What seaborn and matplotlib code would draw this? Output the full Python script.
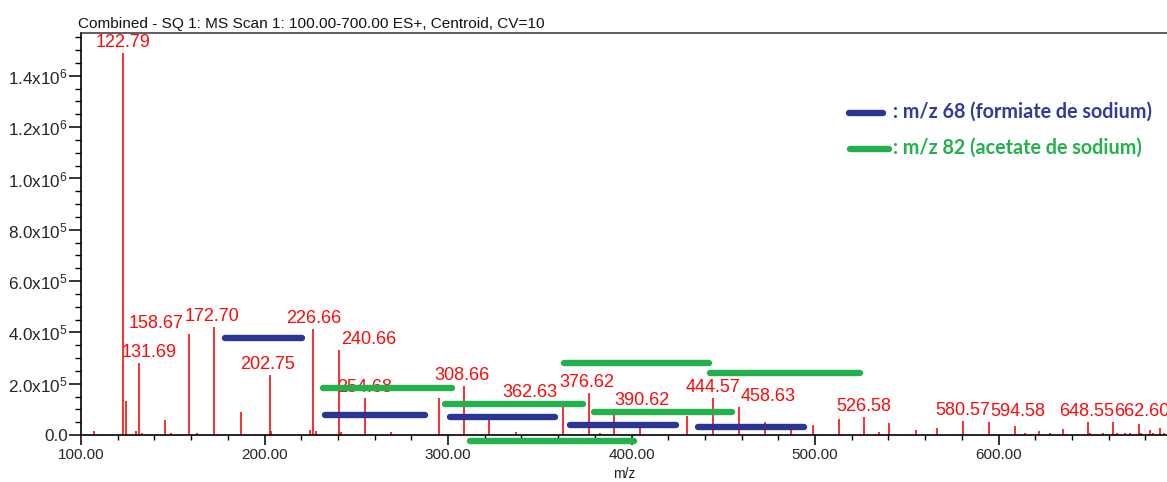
import numpy as np
import pandas as pd
import matplotlib
matplotlib.use("Agg")
import matplotlib.pyplot as plt
from matplotlib.ticker import MultipleLocator, FuncFormatter, FormatStrFormatter
import seaborn as sns

# ---------------------------------------------------------------------------
# Data: centroid peaks (m/z, intensity)
# ---------------------------------------------------------------------------
peak_mz = [107.1, 122.79, 124.4, 130.0, 131.69, 133.0, 145.6, 148.9, 158.67, 163.0,
           172.70, 187.4, 202.75, 203.6, 224.8, 226.66, 228.0, 240.66, 241.5, 254.68,
           269.1, 295.3, 308.66, 322.5, 337.0, 362.63, 376.62, 383.0, 390.62, 404.6,
           430.4, 444.57, 458.63, 472.7, 486.7, 498.7, 513.2, 526.58, 535.0, 540.5,
           554.9, 566.7, 580.57, 594.58, 608.8, 614.4, 622.0, 628.2, 635.3, 648.55,
           650.0, 656.7, 662.60, 664.4, 669.0, 671.6, 676.7, 677.8, 682.6, 684.4,
           688.0, 690.2]
peak_int = [1.7e4, 1.49e6, 1.33e5, 1.7e4, 2.8e5, 8e3, 5.7e4, 8e3, 3.95e5, 8e3,
            4.22e5, 8.8e4, 2.34e5, 1.7e4, 2.0e4, 4.12e5, 1.7e4, 3.31e5, 1.0e4, 1.44e5,
            1.1e4, 1.44e5, 1.92e5, 5.8e4, 1.3e4, 1.25e5, 1.65e5, 8e3, 9.4e4, 2.6e4,
            7.4e4, 1.43e5, 1.1e5, 5.2e4, 2.0e4, 3.9e4, 6.1e4, 6.9e4, 1.2e4, 4.5e4,
            2.0e4, 2.9e4, 5.6e4, 5.1e4, 3.4e4, 9e3, 1.7e4, 9e3, 2.2e4, 5.0e4,
            8e3, 8e3, 5.0e4, 8e3, 8e3, 8e3, 4.3e4, 9e3, 1.8e4, 8e3,
            2.6e4, 8e3]

# labelled peaks
labels = ["122.79", "131.69", "158.67", "172.70", "202.75", "226.66", "240.66",
          "254.68", "308.66", "362.63", "376.62", "390.62", "444.57", "458.63",
          "526.58", "580.57", "594.58", "648.55", "662.60"]
# horizontal shift of each label (pixels) used by the software to avoid overlaps
label_dx = [0, 10, -33, -2, -2, 0, 30, 0, -2, -33, -2, 28, 0, 29, 0, 0, 29, -1, 28]

# adduct spacing bars
blue_start = [176.6, 231.2, 299.3, 364.7, 434.6]
blue_end = [222.3, 289.3, 360.1, 426.0, 495.5]
blue_level = [3.79e5, 7.8e4, 7.1e4, 3.8e4, 3.2e4]

green_start = [230.2, 296.5, 310.2, 361.4, 377.8, 441.0]
green_end = [303.8, 375.2, 402.8, 443.7, 456.4, 526.3]
green_level = [1.82e5, 1.2e5, -2.2e4, 2.8e5, 9.1e4, 2.4e5]

legend_labels = [": m/z 68 (formiate de sodium)", ": m/z 82 (acetate de sodium)"]

spec = pd.DataFrame({"mz": peak_mz, "intensity": peak_int})
lab = dict(zip([float(l) for l in labels], zip(labels, label_dx)))

# ---------------------------------------------------------------------------
# Figure
# ---------------------------------------------------------------------------
sns.set_theme(style="white")
plt.rcParams["font.family"] = ["Liberation Sans", "DejaVu Sans"]
plt.rcParams["mathtext.fontset"] = "custom"
plt.rcParams["mathtext.rm"] = "Liberation Sans"
plt.rcParams["mathtext.default"] = "regular"

RED = "#fa0a0a"
BLUE = "#2b3595"
GREEN = "#22b14c"
BLUE_TXT = "#3439a0"

fig = plt.figure(figsize=(11.67, 4.82), dpi=100)
ax = fig.add_axes([81 / 1167, 47 / 482, 1086 / 1167, 402 / 482])

ax.vlines(spec["mz"], 0, spec["intensity"], color=RED, lw=1.2, zorder=2)

for mz, inten in zip(spec["mz"], spec["intensity"]):
    if mz in lab:
        txt, dx = lab[mz]
        ax.annotate(txt, (mz, inten), xytext=(dx * 0.72, 4.3), textcoords="offset points",
                    ha="center", va="baseline", color=RED, fontsize=13, zorder=3,
                    annotation_clip=False)

cap = 1.6
for s, e, y in zip(blue_start, blue_end, blue_level):
    ax.plot([s + cap, e - cap], [y, y], color=BLUE, lw=4.6, solid_capstyle="round",
            zorder=4, clip_on=False)
for s, e, y in zip(green_start, green_end, green_level):
    ax.plot([s + cap, e - cap], [y, y], color=GREEN, lw=4.6, solid_capstyle="round",
            zorder=4, clip_on=False)

ax.set_xlim(100, 691.8)
ax.set_ylim(0, 1.567e6)

ax.xaxis.set_major_locator(MultipleLocator(100))
ax.xaxis.set_minor_locator(MultipleLocator(20))
ax.xaxis.set_major_formatter(FormatStrFormatter("%.2f"))
ax.yaxis.set_major_locator(MultipleLocator(2e5))
ax.yaxis.set_minor_locator(MultipleLocator(5e4))


def sci(v, pos):
    if abs(v) < 1:
        return "0.0"
    if v < 0:
        return ""
    e = int(np.floor(np.log10(v)))
    return f"{v / 10 ** e:.1f}x10$^{{{e}}}$"


ax.yaxis.set_major_formatter(FuncFormatter(sci))

ax.tick_params(axis="x", which="major", direction="out", length=7.5, width=1.1,
               color="black", labelsize=11, pad=2, bottom=True)
ax.tick_params(axis="x", which="minor", direction="out", length=3.8, width=1.0,
               color="black", bottom=True)
ax.tick_params(axis="y", which="major", direction="out", length=8.5, width=1.1,
               color="black", labelsize=12.3, pad=1, left=True)
ax.tick_params(axis="y", which="minor", direction="out", length=4.3, width=1.0,
               color="black", left=True)

for side in ["left", "bottom"]:
    ax.spines[side].set_color("black")
    ax.spines[side].set_linewidth(1.2)
ax.spines["top"].set_color("#333333")
ax.spines["top"].set_linewidth(1.1)
ax.spines["right"].set_visible(False)

ax.set_xlabel("m/z", fontsize=10, color="#222222")
ax.xaxis.set_label_coords(0.5, -0.08)

fig.text(78 / 1167, 1 - 28 / 482,
         "Combined - SQ 1: MS Scan 1: 100.00-700.00 ES+, Centroid, CV=10",
         fontsize=11.1, color="#111111", va="baseline", ha="left")

# hand-drawn legend
for (x0, x1, yy, col, tcol), txt in zip([(849, 883, 113, BLUE, BLUE_TXT),
                                         (850, 889, 149, GREEN, GREEN)],
                                        legend_labels):
    fig.add_artist(plt.Line2D([x0 / 1167, x1 / 1167], [1 - yy / 482, 1 - yy / 482],
                              transform=fig.transFigure, color=col, lw=4.6,
                              solid_capstyle="round"))
    fig.text(893 / 1167, 1 - (yy - 1) / 482, txt, color=tcol, fontsize=14.2,
             fontweight="bold", family=["Lato", "DejaVu Sans"], va="center", ha="left")

fig.savefig("out.png", dpi=100)
